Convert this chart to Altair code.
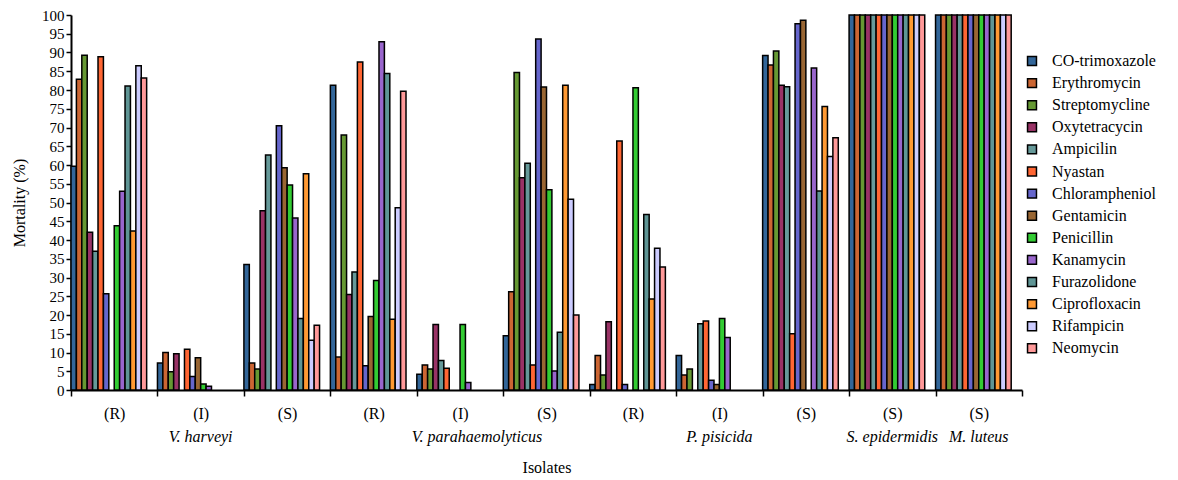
import altair as alt
import pandas as pd

groups = ["g1", "g2", "g3", "g4", "g5", "g6", "g7", "g8", "g9", "g10", "g11"]
group_labels = ["(R)", "(I)", "(S)", "(R)", "(I)", "(S)", "(R)", "(I)", "(S)", "(S)", "(S)"]

antibiotics = ["CO-trimoxazole", "Erythromycin", "Streptomycline", "Oxytetracycin",
               "Ampicilin", "Nyastan", "Chlorampheniol", "Gentamicin", "Penicillin",
               "Kanamycin", "Furazolidone", "Ciprofloxacin", "Rifampicin", "Neomycin"]
colors = ["#336699", "#cc6633", "#669933", "#993366", "#669999", "#ff6633", "#6666cc",
          "#996633", "#33cc33", "#9966cc", "#5f9595", "#ff9933", "#ccccff", "#ff9999"]

co_trimoxazole = [59.7, 7.2, 33.5, 81.3, 4.2, 14.5, 1.5, 9.2, 89.2, 100, 100]
erythromycin   = [82.9, 10.0, 7.2, 8.8, 6.7, 26.2, 9.2, 4.0, 86.7, 100, 100]
streptomycline = [89.3, 4.9, 5.6, 68.0, 5.6, 84.7, 4.0, 5.6, 90.4, 100, 100]
oxytetracycin  = [42.1, 9.7, 47.8, 25.5, 17.5, 56.6, 18.2, 0, 81.3, 100, 100]
ampicilin      = [37.0, 0, 62.7, 31.5, 7.9, 60.5, 0, 17.7, 80.9, 100, 100]
nyastan        = [88.9, 10.9, 0, 87.5, 5.8, 6.7, 66.4, 18.4, 15.0, 100, 100]
chlorampheniol = [25.7, 3.6, 70.5, 6.5, 0, 93.6, 1.5, 2.6, 97.7, 100, 100]
gentamicin     = [0, 8.6, 59.3, 19.6, 0, 80.8, 0, 1.5, 98.6, 100, 100]
penicillin     = [43.8, 1.6, 54.7, 29.2, 17.5, 53.4, 80.6, 19.1, 0, 100, 100]
kanamycin      = [53.0, 1.0, 45.9, 92.9, 2.0, 5.1, 0, 14.0, 85.9, 100, 100]
furazolidone   = [81.1, 0, 19.1, 84.4, 0, 15.4, 46.8, 0, 53.1, 100, 100]
ciprofloxacin  = [42.4, 0, 57.7, 18.9, 0, 81.3, 24.3, 0, 75.6, 100, 100]
rifampicin     = [86.5, 0, 13.3, 48.6, 0, 50.9, 37.8, 0, 62.3, 100, 100]
neomycin       = [83.2, 0, 17.3, 79.7, 0, 20.0, 32.8, 0, 67.3, 100, 100]

series = [co_trimoxazole, erythromycin, streptomycline, oxytetracycin, ampicilin,
          nyastan, chlorampheniol, gentamicin, penicillin, kanamycin, furazolidone,
          ciprofloxacin, rifampicin, neomycin]

species_groups = ["g2", "g8", "g10", "g11"]
species_names = ["V. harveyi", "P. pisicida", "S. epidermidis", "M. luteus"]
species2_groups = ["g5"]
species2_names = ["V. parahaemolyticus"]

rows = []
for name, vals in zip(antibiotics, series):
    for g, v in zip(groups, vals):
        if v > 0:
            rows.append({"group": g, "antibiotic": name, "value": v})
df = pd.DataFrame(rows)

FONT = "Liberation Serif"
W, H = 951, 375

label_expr = "{" + ",".join(f"'{g}':'{l}'" for g, l in zip(groups, group_labels)) + "}[datum.value]"

x_enc = alt.X("group:N", sort=groups,
              scale=alt.Scale(domain=groups, paddingInner=0, paddingOuter=0),
              axis=alt.Axis(title="Isolates", labelExpr=label_expr, labelAngle=0,
                            tickBand="extent", labelFont=FONT, labelFontSize=16,
                            labelColor="black", labelPadding=9, titleFont=FONT,
                            titleFontSize=16, titleFontWeight="normal", titleColor="black",
                            titlePadding=38, domainColor="black", domainWidth=2,
                            tickColor="black", tickWidth=1.5, tickSize=6, grid=False))

bars = alt.Chart(df).mark_bar(stroke="black", strokeWidth=1.5).encode(
    x=x_enc,
    xOffset=alt.XOffset("antibiotic:N", sort=antibiotics,
                        scale=alt.Scale(domain=antibiotics, paddingInner=0,
                                        paddingOuter=1, align=0)),
    y=alt.Y("value:Q",
            scale=alt.Scale(domain=[0, 100], nice=False),
            axis=alt.Axis(title="Mortality (%)", values=list(range(0, 101, 5)),
                          labelFont=FONT, labelFontSize=15, labelColor="black",
                          titleFont=FONT, titleFontSize=16, titleFontWeight="normal",
                          titleColor="black", titlePadding=14, domainColor="black",
                          domainWidth=2, tickColor="black", tickWidth=1.5, tickSize=5,
                          grid=False)),
    color=alt.Color("antibiotic:N", sort=antibiotics,
                    scale=alt.Scale(domain=antibiotics, range=colors),
                    legend=alt.Legend(title=None, orient="none", legendX=953, legendY=38,
                                      symbolType="square", symbolSize=80,
                                      symbolStrokeColor="black", symbolStrokeWidth=1.5,
                                      labelFont=FONT, labelFontSize=16, labelOffset=12,
                                      labelColor="black", rowPadding=6.1, padding=0,
                                      labelLimit=200)),
)

sp1 = alt.Chart(pd.DataFrame({"group": species_groups, "name": species_names})).mark_text(
    font=FONT, fontSize=16, fontStyle="italic", color="black", baseline="middle"
).encode(x=alt.X("group:N", sort=groups), y=alt.value(H + 47), text="name:N")

sp2 = alt.Chart(pd.DataFrame({"group": species2_groups, "name": species2_names})).mark_text(
    font=FONT, fontSize=16, fontStyle="italic", color="black", baseline="middle", dx=17
).encode(x=alt.X("group:N", sort=groups), y=alt.value(H + 47), text="name:N")

chart = alt.layer(bars, sp1, sp2).properties(
    width=W, height=H, background="white",
    padding={"left": 3, "top": 0, "right": 0, "bottom": 5}
).configure(font=FONT).configure_view(stroke=None)

chart.save("out.html", embed_options={"renderer": "svg", "actions": False})
